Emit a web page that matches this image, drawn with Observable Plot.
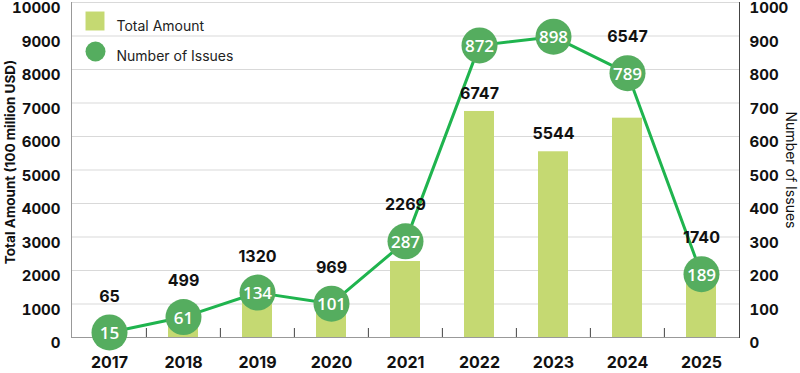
<!DOCTYPE html>
<html>
<head>
<meta charset="utf-8">
<script src="https://cdn.jsdelivr.net/npm/d3@7"></script>
<script src="https://cdn.jsdelivr.net/npm/@observablehq/plot@0.6"></script>
<style>
  html, body { margin: 0; padding: 0; background: #fff; }
  #chart svg { display: block; }
</style>
</head>
<body>
<div id="chart"></div>
<script>
const years = ["2017", "2018", "2019", "2020", "2021", "2022", "2023", "2024", "2025"];
const amounts = [65, 499, 1320, 969, 2269, 6747, 5544, 6547, 1740];
const issues = [15, 61, 134, 101, 287, 872, 898, 789, 189];
const leftTicks = [0, 1000, 2000, 3000, 4000, 5000, 6000, 7000, 8000, 9000, 10000];
const legendLabels = ["Total Amount", "Number of Issues"];
const leftTitle = "Total Amount (100 million USD)";
const rightTitle = "Number of Issues";

const W = 800, H = 373;
const mL = 71, mR = 61, mT = 2, mB = 36;
const scaleK = 10; // right axis (issues) mapped onto left axis units
const step = (W - mL - mR) / years.length;
const unitsPerPx = 10000 / (H - mT - mB);

const data = years.map((y, i) => {
  const circ = issues[i] * scaleK;
  const nearCircle = circ - amounts[i] < 60 * unitsPerPx;
  return {
    year: y,
    amount: amounts[i],
    issues: issues[i],
    circ,
    nearCircle,
    labelY: nearCircle ? circ : amounts[i]
  };
});

const barColor = "#c5d972";
const dotColor = "#55ad5f";
const lineColor = "#1fb44e";
const fontBase = "Inter, 'Noto Sans', sans-serif";

const plot = Plot.plot({
  width: W,
  height: H,
  marginLeft: mL,
  marginRight: mR,
  marginTop: mT,
  marginBottom: mB,
  style: { fontFamily: fontBase, background: "#fff", overflow: "visible" },
  x: { domain: years, paddingInner: 0.6, paddingOuter: 0.3, axis: null },
  y: { domain: [0, 10000], axis: null },
  marks: [
    Plot.gridY(leftTicks, { stroke: "#d9d9d9", strokeOpacity: 1, strokeWidth: 1 }),
    Plot.barY(data, { x: "year", y: "amount", fill: barColor }),
    Plot.ruleY([0], { stroke: "#999" }),
    Plot.ruleX(years.slice(1), { x: d => d, y1: 0, y2: 9 * unitsPerPx, dx: -step / 2, stroke: "#444", strokeWidth: 1 }),
    Plot.frame({ anchor: "left", stroke: "#999" }),
    Plot.frame({ anchor: "right", stroke: "#444" }),
    Plot.axisY(leftTicks, {
      anchor: "left", tickSize: 0, tickPadding: 11, fontSize: 15, fontWeight: "bold",
      fill: "#111", dy: 6, label: null, tickFormat: d => String(d)
    }),
    Plot.axisY(leftTicks, {
      anchor: "right", tickSize: 0, tickPadding: 10, fontSize: 15, fontWeight: "bold",
      fill: "#111", dy: 6, label: null, tickFormat: d => String(d / scaleK)
    }),
    Plot.axisX(years, {
      anchor: "bottom", tickSize: 0, tickPadding: 19, fontSize: 16, fontWeight: "bold",
      fill: "#111", label: null
    }),
    Plot.lineY(data, { x: "year", y: "circ", stroke: lineColor, strokeWidth: 3 }),
    Plot.dot(data, { x: "year", y: "circ", r: 18, fill: dotColor, stroke: "none" }),
    Plot.text(data, {
      x: "year", y: "circ", text: d => String(d.issues), fill: "#fff",
      fontSize: 17, fontWeight: 600, fontFamily: "'Open Sans', sans-serif", dy: 1
    }),
    // amount labels: above the circle when it sits on the bar, otherwise above the bar
    Plot.text(data.filter(d => d.nearCircle), {
      x: "year", y: "labelY", dy: -36, text: d => String(d.amount), fill: "#111",
      fontSize: 16, fontWeight: "bold"
    }),
    Plot.text(data.filter(d => !d.nearCircle), {
      x: "year", y: "labelY", dy: -18, text: d => String(d.amount), fill: "#111",
      fontSize: 16, fontWeight: "bold"
    }),
    // legend
    Plot.dot([legendLabels[0]], { frameAnchor: "top-left", dx: 23.5, dy: 18.5, symbol: "square", r: 10.7, fill: barColor }),
    Plot.dot([legendLabels[1]], { frameAnchor: "top-left", dx: 24, dy: 49, r: 10, fill: dotColor }),
    Plot.text([legendLabels[0]], { frameAnchor: "top-left", dx: 45, dy: 19, text: d => d, textAnchor: "start", fontSize: 14, fill: "#222" }),
    Plot.text([legendLabels[1]], { frameAnchor: "top-left", dx: 45, dy: 49, text: d => d, textAnchor: "start", fontSize: 14, fill: "#222" }),
    // axis titles
    Plot.text([leftTitle], {
      frameAnchor: "left", textAnchor: "middle", dx: -61, dy: -8, rotate: -90, text: d => d,
      fontSize: 13.5, fontWeight: "bold", fill: "#111"
    }),
    Plot.text([rightTitle], {
      frameAnchor: "right", textAnchor: "middle", dx: 51, dy: 0, rotate: 90, text: d => d,
      fontSize: 14, fill: "#111"
    })
  ]
});

document.getElementById("chart").appendChild(plot);
</script>
</body>
</html>
